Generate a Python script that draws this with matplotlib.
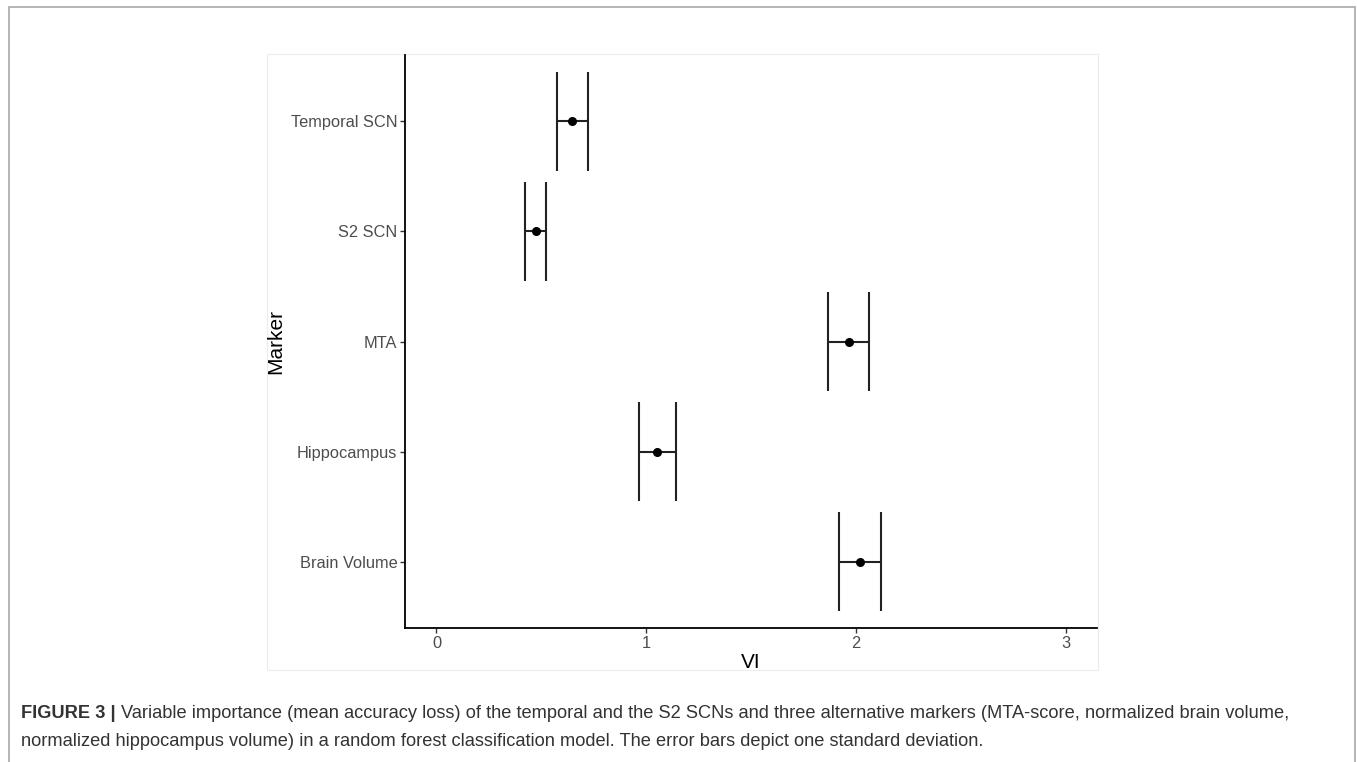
import matplotlib
matplotlib.use("Agg")
import matplotlib.pyplot as plt
from matplotlib.patches import Rectangle

# variable importance (mean accuracy loss) and its standard deviation
markers = ["Brain Volume", "Hippocampus", "MTA", "S2 SCN", "Temporal SCN"]
vi_mean = [2.02, 1.053, 1.965, 0.473, 0.648]
vi_sd = [0.099, 0.089, 0.098, 0.050, 0.074]

x_ticks = [0, 1, 2, 3]

caption_bold = "FIGURE 3 | "
caption_line1 = ("Variable importance (mean accuracy loss) of the temporal and the S2 SCNs and three "
                 "alternative markers (MTA-score, normalized brain volume,")
caption_line2 = ("normalized hippocampus volume) in a random forest classification model. "
                 "The error bars depict one standard deviation.")

plt.rcParams['font.family'] = ['Liberation Sans', 'DejaVu Sans']

W, H = 1357, 762
fig = plt.figure(figsize=(W / 100, H / 100), dpi=100)


def fx(px):
    return px / W


def fy(py):
    return 1 - py / H


# outer page frame and the light plot box
fig.patches.append(Rectangle((fx(9), -0.02), fx(1355) - fx(9), fy(7) + 0.02,
                             transform=fig.transFigure, fill=False,
                             edgecolor="#a8a8a8", linewidth=1.2, zorder=-1))
fig.patches.append(Rectangle((fx(267), fy(670)), fx(1098) - fx(267), fy(54) - fy(670),
                             transform=fig.transFigure, fill=False,
                             edgecolor="#ececec", linewidth=0.8, zorder=-1))

ax = fig.add_axes([fx(405), fy(628), fx(1097) - fx(405), fy(55) - fy(628)])
ax.patch.set_alpha(0)

ypos = list(range(1, len(markers) + 1))
lo = [m - s for m, s in zip(vi_mean, vi_sd)]
hi = [m + s for m, s in zip(vi_mean, vi_sd)]
half = 0.45

ax.hlines(ypos, lo, hi, color="#222222", linewidth=1.5)
ax.vlines(lo, [y - half for y in ypos], [y + half for y in ypos], color="#222222", linewidth=1.5)
ax.vlines(hi, [y - half for y in ypos], [y + half for y in ypos], color="#222222", linewidth=1.5)
ax.plot(vi_mean, ypos, "o", color="black", markersize=5.5, zorder=3)

ax.set_xlim(-0.15, 3.15)
ax.set_ylim(0.4, len(markers) + 0.6)
ax.set_xticks(x_ticks)
ax.set_xticklabels([str(t) for t in x_ticks])
ax.set_yticks(ypos)
ax.set_yticklabels(markers)

for side in ["top", "right"]:
    ax.spines[side].set_visible(False)
for side in ["left", "bottom"]:
    ax.spines[side].set_linewidth(1.3)
    ax.spines[side].set_color("black")

ax.tick_params(axis="both", length=3.5, width=1.0, color="#333333",
               labelsize=11.8, labelcolor="#4d4d4d", pad=2)

ax.set_xlabel("VI", fontsize=15, color="black", labelpad=2)
ax.set_ylabel("Marker", fontsize=15, color="black", labelpad=4)

# caption, bold lead-in followed by the regular text
cap_size = 13.15
t_bold = fig.text(fx(21), fy(713), caption_bold, fontsize=cap_size, fontweight="bold",
                  color="#333333", va="center", ha="left")
fig.canvas.draw()
bb = t_bold.get_window_extent(renderer=fig.canvas.get_renderer())
fig.text(bb.x1 / W, fy(713), caption_line1, fontsize=cap_size, color="#333333",
         va="center", ha="left")
fig.text(fx(21), fy(741), caption_line2, fontsize=cap_size, color="#333333",
         va="center", ha="left")

fig.savefig("out.png", dpi=100)
